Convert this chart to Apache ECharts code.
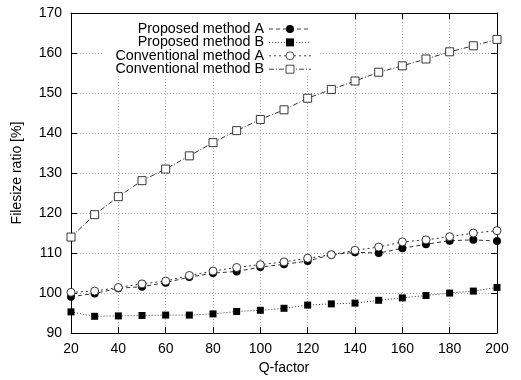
<!DOCTYPE html>
<html><head><meta charset="utf-8">
<script src="https://cdn.jsdelivr.net/npm/echarts@6/dist/echarts.min.js"></script>
<style>html,body{margin:0;padding:0;background:#fff}#c{width:521px;height:380px}</style>
</head><body><div id="c"></div>
<script>
const qFactor = [20,30,40,50,60,70,80,90,100,110,120,130,140,150,160,170,180,190,200];
const proposedA = [99.1,99.9,101.2,101.6,102.6,104.0,105.0,105.4,106.5,107.2,108.0,109.6,110.2,110.0,111.2,112.2,113.1,113.3,113.0];
const proposedB = [95.3,94.2,94.3,94.4,94.5,94.5,94.8,95.4,95.7,96.2,97.0,97.3,97.5,98.2,98.8,99.4,100.0,100.5,101.4];
const conventionalA = [100.2,100.5,101.4,102.3,103.0,104.4,105.5,106.4,107.1,107.8,108.7,109.6,110.7,111.5,112.8,113.3,114.1,115.0,115.6];
const conventionalB = [114.0,119.6,124.1,128.1,131.0,134.3,137.6,140.6,143.4,145.8,148.7,150.9,153.0,155.2,156.8,158.5,160.3,161.8,163.4];
const seriesNames = ['Proposed method A','Proposed method B','Conventional method A','Conventional method B'];

const font = 'Liberation Sans, Arial, Helvetica, sans-serif';
const pair = a => a.map((v,i)=>[qFactor[i], v]);
const chart = echarts.init(document.getElementById('c'), null, {renderer:'canvas'});
const grid = {left:71, right:24, top:13, bottom:41};
const gridLine = {show:true, lineStyle:{color:'#aaa', type:[1,2], width:1}};
chart.setOption({
  animation:false,
  backgroundColor:'#fff',
  grid: grid,
  legend: {
    orient:'vertical', left:104, top:14, align:'right',
    itemWidth:42, itemHeight:10, itemGap:-0.6,
    backgroundColor:'#fff', padding:[8,8,0,8],
    itemStyle:{borderWidth:0.8},
    lineStyle:{width:1, color:'#444'},
    textStyle:{fontFamily:font, fontSize:14.3, color:'#000', width:152, align:'right', lineHeight:14},
    data: seriesNames
  },
  xAxis: [{
    type:'value', min:20, max:200, interval:20,
    name:'Q-factor', nameLocation:'middle', nameGap:23,
    nameTextStyle:{fontFamily:font, fontSize:14, color:'#000'},
    axisLine:{show:true, lineStyle:{color:'#000', width:1}},
    axisTick:{show:true, inside:true, length:6, lineStyle:{color:'#000'}},
    axisLabel:{fontFamily:font, fontSize:14, color:'#000', margin:9},
    splitLine:gridLine
  },{
    type:'value', position:'top', min:20, max:200, interval:20,
    axisLine:{show:true, lineStyle:{color:'#000', width:1}},
    axisTick:{show:true, inside:true, length:6, lineStyle:{color:'#000'}},
    axisLabel:{show:false}, splitLine:{show:false}
  }],
  yAxis: [{
    type:'value', min:90, max:170, interval:10,
    name:'Filesize ratio [%]', nameLocation:'middle', nameGap:47, nameRotate:90,
    nameTextStyle:{fontFamily:font, fontSize:14, color:'#000'},
    axisLine:{show:true, lineStyle:{color:'#000', width:1}},
    axisTick:{show:true, inside:true, length:6, lineStyle:{color:'#000'}},
    axisLabel:{fontFamily:font, fontSize:14, color:'#000', margin:9},
    splitLine:gridLine
  },{
    type:'value', position:'right', min:90, max:170, interval:10,
    axisLine:{show:true, lineStyle:{color:'#000', width:1}},
    axisTick:{show:true, inside:true, length:6, lineStyle:{color:'#000'}},
    axisLabel:{show:false}, splitLine:{show:false}
  }],
  series: [
    {name:seriesNames[0], type:'line', data:pair(proposedA), symbol:'circle', symbolSize:8,
     itemStyle:{color:'#000'},
     lineStyle:{color:'#333', width:1, type:[4,3]}},
    {name:seriesNames[1], type:'line', data:pair(proposedB), symbol:'rect', symbolSize:7,
     itemStyle:{color:'#000'},
     lineStyle:{color:'#333', width:1, type:[1,2]}},
    {name:seriesNames[2], type:'line', data:pair(conventionalA), symbol:'circle', symbolSize:8,
     itemStyle:{color:'#fff', borderColor:'#222', borderWidth:0.9},
     lineStyle:{color:'#333', width:1, type:[2,3]}},
    {name:seriesNames[3], type:'line', data:pair(conventionalB), symbol:'rect', symbolSize:8,
     itemStyle:{color:'#fff', borderColor:'#222', borderWidth:0.9},
     lineStyle:{color:'#333', width:1, type:[5,2,1,2]}}
  ]
});
</script></body></html>
